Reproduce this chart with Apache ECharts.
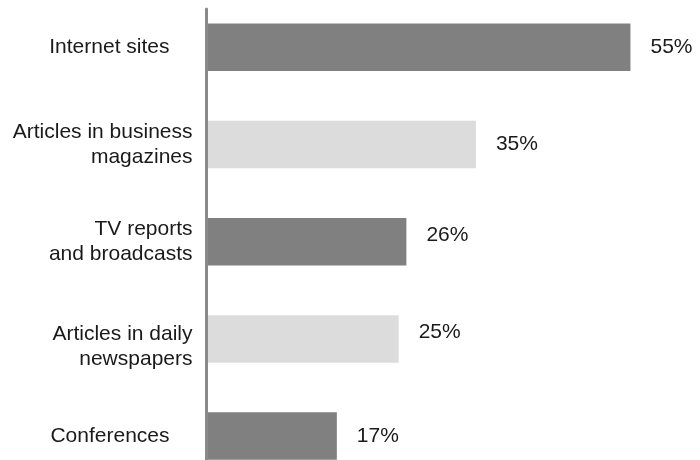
<!DOCTYPE html>
<html>
<head>
<meta charset="utf-8">
<title>Information sources</title>
<script src="https://cdn.jsdelivr.net/npm/echarts@6/dist/echarts.min.js"></script>
<style>
  html, body { margin: 0; padding: 0; background: #ffffff; }
  #chart { width: 700px; height: 460px; }
</style>
</head>
<body>
<div id="chart"></div>
<script>
// Share of respondents naming each source
const categories = [
  'Internet sites',
  'Articles in business\nmagazines',
  'TV reports\nand broadcasts',
  'Articles in daily\nnewspapers',
  'Conferences'
];
const shares = [55, 35, 26, 25, 17];

const DARK = '#808080';
const LIGHT = '#dcdcdc';
const TEXT = '#1a1a1a';
const FONT = 'Liberation Sans, Arial, sans-serif';

// small vertical nudges for a few value labels
const valueLabelShift = [0, 0, -6, -7, 0];

const chart = echarts.init(document.getElementById('chart'), null, { renderer: 'canvas' });

const categoryItems = categories.map(function (name) {
  const item = { value: name };
  if (name.indexOf('\n') < 0) {
    item.textStyle = { padding: [0, 23, 0, 0] };
  }
  return item;
});

// the newspapers label sits a little lower than its bar
function categoryLabel(name) {
  if (name.indexOf('daily') >= 0) {
    return '{sp| }\n' + name.split('\n').map(function (l) { return '{t|' + l + '}'; }).join('\n');
  }
  return name;
}

const barItems = shares.map(function (v, i) {
  return {
    value: v,
    itemStyle: { color: i % 2 === 0 ? DARK : LIGHT },
    label: { offset: [0, valueLabelShift[i]] }
  };
});

chart.setOption({
  animation: false,
  backgroundColor: '#ffffff',
  grid: [
    { left: 205.5, right: 0, top: -1.3, height: 486, containLabel: false, outerBoundsMode: 'none' },
    { left: 206.5, right: 0, top: 9, bottom: 0, containLabel: false, outerBoundsMode: 'none' }
  ],
  xAxis: [
    { type: 'value', gridIndex: 0, min: 0, max: 64, show: false },
    { type: 'value', gridIndex: 1, min: 0, max: 1, show: false }
  ],
  yAxis: [
    {
      type: 'category',
      gridIndex: 0,
      inverse: true,
      data: categoryItems,
      axisLine: { show: false },
      axisTick: { show: false },
      splitLine: { show: false },
      axisLabel: {
        margin: 13,
        color: TEXT,
        fontSize: 21,
        fontFamily: FONT,
        lineHeight: 25,
        align: 'right',
        formatter: categoryLabel,
        rich: {
          sp: { fontSize: 21, fontFamily: FONT, lineHeight: 16, align: 'right' },
          t: { fontSize: 21, fontFamily: FONT, lineHeight: 25, color: TEXT, align: 'right' }
        }
      }
    },
    {
      type: 'value',
      gridIndex: 1,
      min: 0,
      max: 1,
      z: 5,
      axisLine: { show: true, lineStyle: { color: '#8a8a8a', width: 3 } },
      axisTick: { show: false },
      axisLabel: { show: false },
      splitLine: { show: false }
    }
  ],
  series: [
    {
      type: 'bar',
      xAxisIndex: 0,
      yAxisIndex: 0,
      data: barItems,
      barWidth: 47.5,
      label: {
        show: true,
        position: 'right',
        distance: 20,
        formatter: '{c}%',
        color: TEXT,
        fontSize: 21,
        fontFamily: FONT
      }
    }
  ]
});
</script>
</body>
</html>
